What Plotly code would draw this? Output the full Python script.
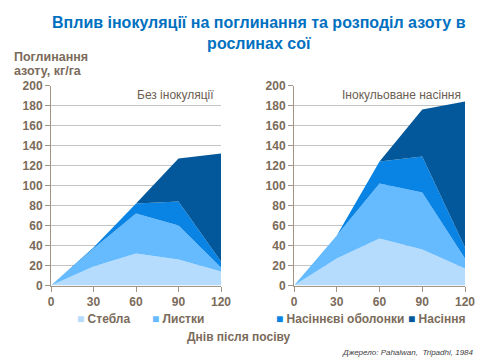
import plotly.graph_objects as go

days = [0, 30, 60, 90, 120]
series_names = ["Стебла", "Листки", "Насіннєві оболонки", "Насіння"]
colors = ["#B5DCFD", "#66BBFF", "#0A84E4", "#02589B"]

# No inoculation (individual components, stacked)
no_stems = [0, 19, 32, 26, 14]
no_leaves = [0, 18, 40, 34, 4]
no_hulls = [0, 1, 10, 24, 6]
no_seeds = [0, 0, 0, 43, 108]

# Inoculated seed
in_stems = [0, 27, 47, 36, 17]
in_leaves = [0, 23, 55, 57, 10]
in_hulls = [0, 0, 22, 36, 11]
in_seeds = [0, 0, 0, 47, 146]

x_ticks = [0, 30, 60, 90, 120]
y_ticks = list(range(0, 201, 20))

# legend entry anchor positions (px) and the legend row centre
legend_x_px = [75, 150, 274, 406]
legend_y_px = 319

TXT = "#7B6B5B"
FONT = "Liberation Sans, Arial, sans-serif"
W, H = 480, 360

fig = go.Figure()

panels = [
    ("x", "y", [no_stems, no_leaves, no_hulls, no_seeds], "s1"),
    ("x2", "y2", [in_stems, in_leaves, in_hulls, in_seeds], "s2"),
]
for xa, ya, comps, grp in panels:
    for name, vals, col in zip(series_names, comps, colors):
        fig.add_trace(go.Scatter(
            x=days, y=vals, name=name, xaxis=xa, yaxis=ya,
            stackgroup=grp, mode="lines", line=dict(width=0, color=col),
            fillcolor=col, showlegend=False, hoverinfo="x+y+name",
        ))

ydom = [1 - 285.5 / H, 1 - 85.5 / H]
axis_common = dict(
    showline=True, linecolor="#A39585", linewidth=1,
    ticks="outside", tickcolor="#A39585", ticklen=5,
    tickfont=dict(family=FONT, size=12, color=TXT, weight="bold"),
    zeroline=False, automargin=False,
)
fig.update_layout(
    width=W, height=H,
    margin=dict(l=0, r=0, t=0, b=0, autoexpand=False),
    paper_bgcolor="white", plot_bgcolor="white",
    xaxis=dict(domain=[51/W, 221/W], range=[0, 120], tickvals=x_ticks,
               showgrid=False, anchor="y", **axis_common),
    yaxis=dict(domain=ydom, range=[0, 200], tickvals=y_ticks,
               showgrid=True, gridcolor="#C4C4C4", gridwidth=1, anchor="x",
               **axis_common),
    xaxis2=dict(domain=[294/W, 465/W], range=[0, 120], tickvals=x_ticks,
                showgrid=False, anchor="y2", **axis_common),
    yaxis2=dict(domain=ydom, range=[0, 200], tickvals=y_ticks,
                showgrid=True, gridcolor="#C4C4C4", gridwidth=1, anchor="x2",
                **axis_common),
    showlegend=False,
)

# legend as coloured squares + labels
for name, col, px in zip(series_names, colors, legend_x_px):
    fig.add_annotation(
        text=f"<span style='color:{col}'>■</span> {name}",
        xref="paper", yref="paper", x=px / W, y=1 - legend_y_px / H,
        xanchor="left", yanchor="middle", showarrow=False,
        font=dict(family=FONT, size=12, color=TXT, weight="bold"),
    )

fig.add_annotation(
    text="Вплив інокуляції на поглинання та розподіл азоту в<br>рослинах сої",
    xref="paper", yref="paper", x=259/W, y=1 - 33/H, xanchor="center", yanchor="middle",
    showarrow=False, align="center",
    font=dict(family=FONT, size=16, color="#0070C0", weight="bold"),
)
for txt, ypx in [("Поглинання", 57), ("азоту, кг/га", 71)]:
    fig.add_annotation(
        text=txt, xref="paper", yref="paper",
        x=13/W, y=1 - ypx/H, xanchor="left", yanchor="middle", align="left",
        showarrow=False, borderpad=0,
        font=dict(family=FONT, size=12.5, color=TXT, weight="bold"),
    )
fig.add_annotation(
    text="Без інокуляції", xref="paper", yref="paper",
    x=216/W, y=1 - 95/H, xanchor="right", yanchor="middle",
    showarrow=False, font=dict(family=FONT, size=12, color="#6B5E52"),
)
fig.add_annotation(
    text="Інокульоване насіння", xref="paper", yref="paper",
    x=463/W, y=1 - 95/H, xanchor="right", yanchor="middle",
    showarrow=False, font=dict(family=FONT, size=12, color="#6B5E52"),
)
fig.add_annotation(
    text="Днів після посіву", xref="paper", yref="paper",
    x=239/W, y=1 - 337/H, xanchor="center", yanchor="middle",
    showarrow=False, font=dict(family=FONT, size=12, color=TXT, weight="bold"),
)
fig.add_annotation(
    text="<i>Джерело: Pahalwan,  Tripadhi, 1984</i>", xref="paper", yref="paper",
    x=476/W, y=1 - 352/H, xanchor="right", yanchor="middle",
    showarrow=False, font=dict(family=FONT, size=8, color="#404040"),
)

fig.write_html(
    "out.html",
    config={"displayModeBar": False},
    post_script="document.body.style.margin='0';document.body.style.padding='0';",
)
